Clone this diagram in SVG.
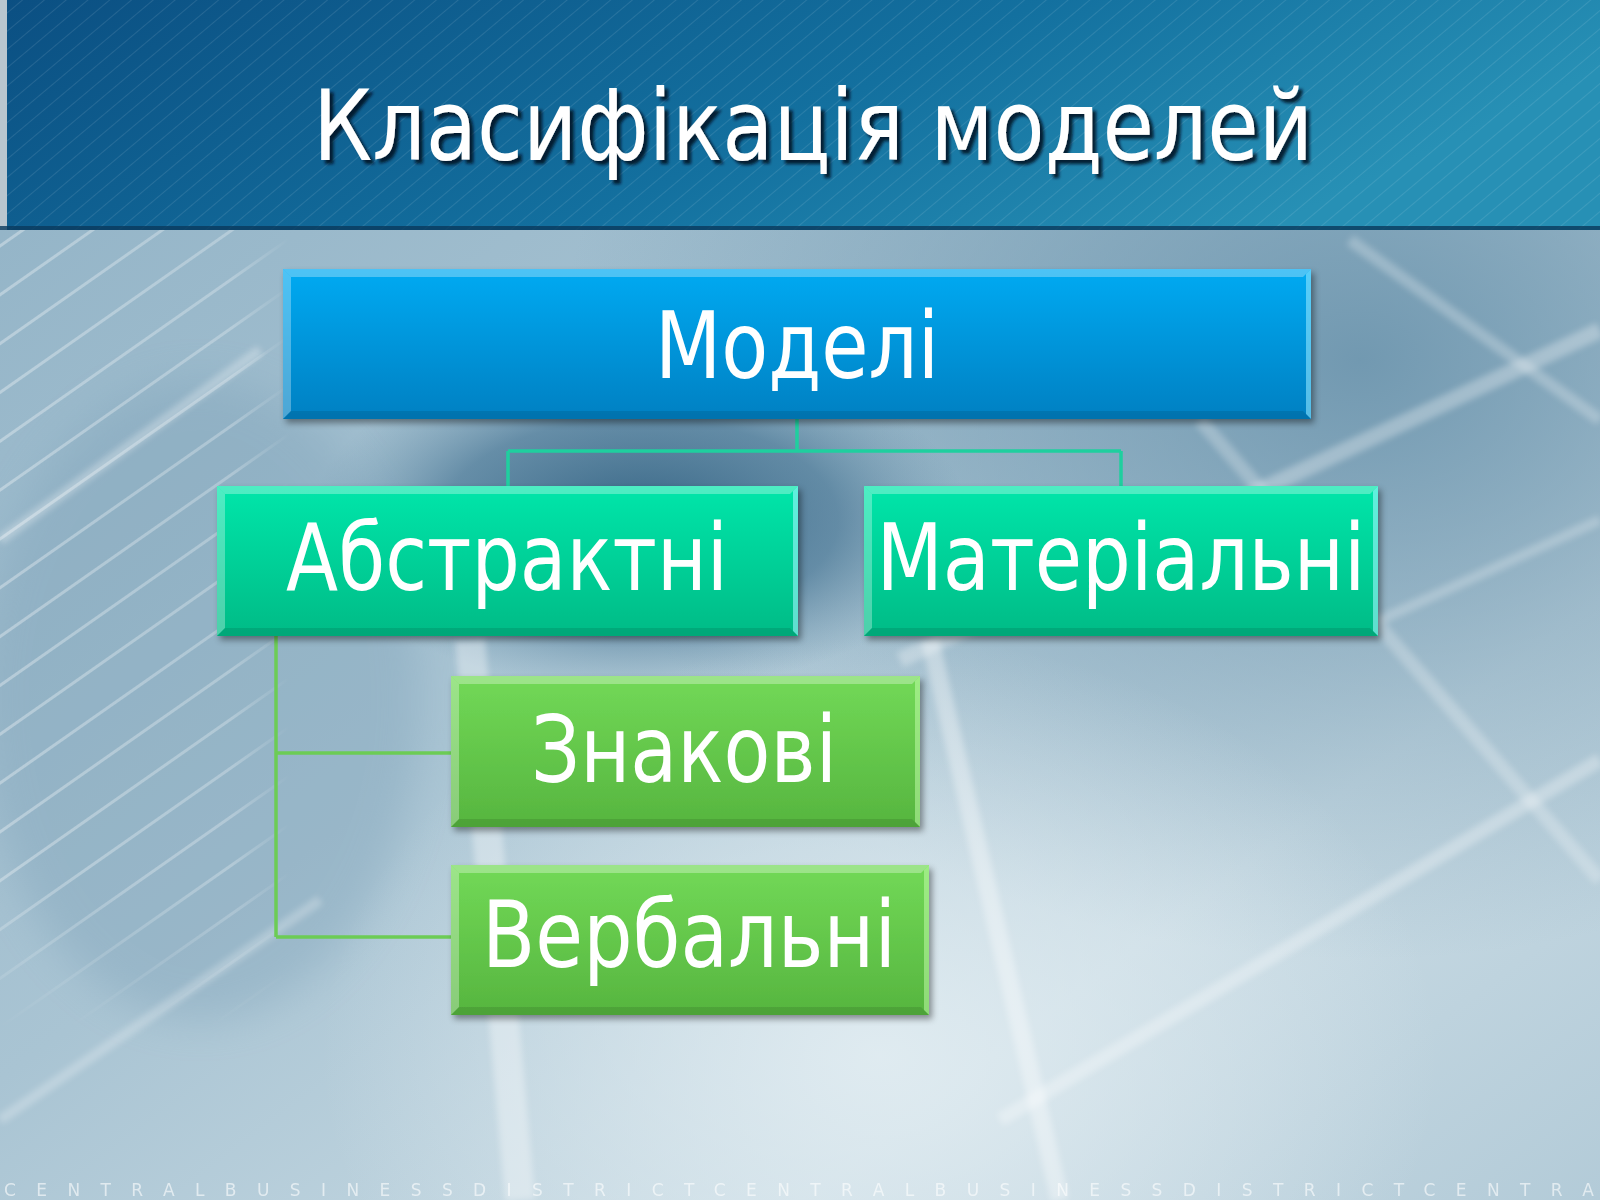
<svg xmlns="http://www.w3.org/2000/svg" width="1600" height="1200" viewBox="0 0 1600 1200">
<defs>
  <linearGradient id="bg" x1="0" y1="0" x2="1" y2="1">
    <stop offset="0" stop-color="#8fb1c5"/>
    <stop offset="0.45" stop-color="#a9c4d3"/>
    <stop offset="0.75" stop-color="#c9dbe4"/>
    <stop offset="1" stop-color="#b3cbd8"/>
  </linearGradient>
  <radialGradient id="bgR" cx="0.85" cy="0.3" r="0.5">
    <stop offset="0" stop-color="#6a93ac" stop-opacity="0.9"/>
    <stop offset="1" stop-color="#6a93ac" stop-opacity="0"/>
  </radialGradient>
  <radialGradient id="bgL" cx="0.55" cy="0.88" r="0.35">
    <stop offset="0" stop-color="#e2edf2" stop-opacity="0.9"/>
    <stop offset="1" stop-color="#e2edf2" stop-opacity="0"/>
  </radialGradient>
  <radialGradient id="eye" cx="0.5" cy="0.5" r="0.5">
    <stop offset="0" stop-color="#2f5f80" stop-opacity="0.95"/>
    <stop offset="0.6" stop-color="#4b7896" stop-opacity="0.7"/>
    <stop offset="1" stop-color="#6d94ac" stop-opacity="0"/>
  </radialGradient>
  <linearGradient id="band" x1="0" y1="0" x2="1" y2="0.3">
    <stop offset="0" stop-color="#0b4f82"/>
    <stop offset="0.6" stop-color="#13709f"/>
    <stop offset="1" stop-color="#2790b5"/>
  </linearGradient>
  <linearGradient id="hatchFade" x1="0" y1="0" x2="1" y2="0">
    <stop offset="0" stop-color="#fff" stop-opacity="1"/>
    <stop offset="0.8" stop-color="#fff" stop-opacity="0.8"/>
    <stop offset="1" stop-color="#fff" stop-opacity="0"/>
  </linearGradient>
  <linearGradient id="hatchFadeV" x1="0" y1="0" x2="0" y2="1">
    <stop offset="0" stop-color="#fff" stop-opacity="1"/>
    <stop offset="0.8" stop-color="#fff" stop-opacity="1"/>
    <stop offset="1" stop-color="#fff" stop-opacity="0"/>
  </linearGradient>
  <mask id="hmaskV"><rect x="0" y="230" width="290" height="800" fill="url(#hatchFadeV)"/></mask>
  <mask id="hmask"><rect x="0" y="230" width="290" height="800" fill="url(#hatchFade)" mask="url(#hmaskV)"/></mask>
  <linearGradient id="gBlue" x1="0" y1="0" x2="0" y2="1">
    <stop offset="0" stop-color="#00aaf2"/>
    <stop offset="1" stop-color="#0080c2"/>
  </linearGradient>
  <linearGradient id="gTeal" x1="0" y1="0" x2="0" y2="1">
    <stop offset="0" stop-color="#00e6aa"/>
    <stop offset="1" stop-color="#00bb86"/>
  </linearGradient>
  <linearGradient id="gGreen" x1="0" y1="0" x2="0" y2="1">
    <stop offset="0" stop-color="#72d957"/>
    <stop offset="1" stop-color="#56b53f"/>
  </linearGradient>
  <filter id="blur20" x="-20%" y="-20%" width="140%" height="140%"><feGaussianBlur stdDeviation="20"/></filter>
  <filter id="blur3"><feGaussianBlur stdDeviation="3"/></filter>
  <filter id="shadow" x="-5%" y="-5%" width="115%" height="120%">
    <feDropShadow dx="3" dy="4" stdDeviation="3" flood-color="#000" flood-opacity="0.4"/>
  </filter>
  <filter id="tshadow" x="-5%" y="-10%" width="110%" height="130%">
    <feDropShadow dx="4" dy="4" stdDeviation="1.5" flood-color="#001020" flood-opacity="0.85"/>
  </filter>
  <pattern id="hatch" width="40" height="40" patternUnits="userSpaceOnUse" patternTransform="rotate(-35)">
    <rect x="0" y="0" width="40" height="3" fill="#ffffff" opacity="0.55"/>
  </pattern>
  <pattern id="hatchFine" width="14" height="14" patternUnits="userSpaceOnUse" patternTransform="rotate(-40)">
    <rect x="0" y="0" width="14" height="1" fill="#ffffff" opacity="0.1"/>
  </pattern>
</defs>
<style>
  .lbl { font-family: "DejaVu Sans", Tahoma, Verdana, sans-serif; font-size: 92px; fill: #ffffff; text-anchor: middle; }
  .title { font-family: "DejaVu Sans", Tahoma, Verdana, sans-serif; font-size: 98px; fill: #ffffff; }
  .hl { fill: #ffffff; opacity: 0.3; }
  .dk { fill: #000000; opacity: 0.1; }
  .c1 { fill: none; stroke: #1fcf9f; stroke-width: 3.5; }
  .c2 { fill: none; stroke: #6ccc55; stroke-width: 3.5; }
  .foot { font-family: "DejaVu Sans", Verdana, sans-serif; font-size: 17px; fill: #ffffff; opacity: 0.6; }
</style>

<!-- background -->
<g id="background">
  <rect x="0" y="0" width="1600" height="1200" fill="url(#bg)"/>
  <rect x="0" y="0" width="1600" height="1200" fill="url(#bgR)"/>
  <rect x="0" y="0" width="1600" height="1200" fill="url(#bgL)"/>
  <ellipse cx="640" cy="520" rx="330" ry="170" fill="url(#eye)"/>
  <ellipse cx="200" cy="700" rx="220" ry="320" fill="#7a9fb6" opacity="0.35" filter="url(#blur20)"/>
  <g mask="url(#hmask)"><rect x="0" y="230" width="290" height="800" fill="url(#hatch)" opacity="0.6"/></g>
  <g stroke="#ffffff" fill="none" filter="url(#blur3)">
    <path d="M930 640 L1060 1200" stroke-width="18" opacity="0.35"/>
    <path d="M900 660 L1600 330" stroke-width="16" opacity="0.3"/>
    <path d="M1000 1120 L1600 760" stroke-width="14" opacity="0.3"/>
    <path d="M1200 420 L1600 880" stroke-width="14" opacity="0.25"/>
    <path d="M1350 240 L1600 420" stroke-width="12" opacity="0.25"/>
    <path d="M1380 620 L1600 520" stroke-width="10" opacity="0.25"/>
    <path d="M470 640 L520 1200" stroke-width="30" opacity="0.35"/>
    <path d="M0 540 L260 350" stroke-width="10" opacity="0.3"/>
    <path d="M0 1120 L320 900" stroke-width="10" opacity="0.25"/>
  </g>
</g>

<!-- title band -->
<g id="title-band">
  <rect x="0" y="0" width="1600" height="230" fill="url(#band)"/>
  <rect x="0" y="0" width="1600" height="230" fill="url(#hatchFine)"/>
  <rect x="0" y="0" width="7" height="230" fill="#b9c6cf"/>
  <rect x="0" y="226" width="1600" height="4" fill="#0a3a5c" opacity="0.8"/>
  <text class="title" x="313" y="160" textLength="1000" lengthAdjust="spacingAndGlyphs" filter="url(#tshadow)">Класифікація моделей</text>
</g>

<!-- connectors -->
<g id="connectors">
  <path class="c1" d="M797 419 V451 M508 451 H1121 M508 451 V486 M1121 451 V486"/>
  <path class="c2" d="M276 636 V937 M276 753 H451 M276 937 H451"/>
</g>

<!-- nodes -->
<g id="node-modeli" filter="url(#shadow)">
  <rect x="283" y="269" width="1028" height="150" fill="url(#gBlue)"/>
  <path class="hl" d="M283 269 H1311 L1303 277 H291 Z"/>
  <path class="hl" d="M283 269 L291 277 V411 L283 419 Z"/>
  <path d="M1311 269 L1306 274 V414 L1311 419 Z" fill="#8fe6ff" opacity="0.6"/>
  <path class="dk" d="M283 419 L291 411 H1303 L1311 419 Z"/>
  <text class="lbl" x="797" y="378" textLength="284" lengthAdjust="spacingAndGlyphs">Моделі</text>
</g>

<g id="node-abstraktni" filter="url(#shadow)">
  <rect x="217" y="486" width="581" height="150" fill="url(#gTeal)"/>
  <path class="hl" d="M217 486 H798 L790 494 H225 Z"/>
  <path class="hl" d="M217 486 L225 494 V628 L217 636 Z"/>
  <path d="M798 486 L793 491 V631 L798 636 Z" fill="#9ff7ff" opacity="0.6"/>
  <path class="dk" d="M217 636 L225 628 H790 L798 636 Z"/>
  <text class="lbl" x="507" y="590" textLength="442" lengthAdjust="spacingAndGlyphs">Абстрактні</text>
</g>

<g id="node-materialni" filter="url(#shadow)">
  <rect x="864" y="486" width="514" height="150" fill="url(#gTeal)"/>
  <path class="hl" d="M864 486 H1378 L1370 494 H872 Z"/>
  <path class="hl" d="M864 486 L872 494 V628 L864 636 Z"/>
  <path d="M1378 486 L1373 491 V631 L1378 636 Z" fill="#9ff7ff" opacity="0.6"/>
  <path class="dk" d="M864 636 L872 628 H1370 L1378 636 Z"/>
  <text class="lbl" x="1121" y="590" textLength="489" lengthAdjust="spacingAndGlyphs">Матеріальні</text>
</g>

<g id="node-znakovi" filter="url(#shadow)">
  <rect x="451" y="676" width="469" height="151" fill="url(#gGreen)"/>
  <path class="hl" d="M451 676 H920 L912 684 H459 Z"/>
  <path class="hl" d="M451 676 L459 684 V819 L451 827 Z"/>
  <path d="M920 676 L915 681 V822 L920 827 Z" fill="#c8ffb0" opacity="0.5"/>
  <path class="dk" d="M451 827 L459 819 H912 L920 827 Z"/>
  <text class="lbl" x="684" y="782" textLength="306" lengthAdjust="spacingAndGlyphs">Знакові</text>
</g>

<g id="node-verbalni" filter="url(#shadow)">
  <rect x="451" y="865" width="478" height="150" fill="url(#gGreen)"/>
  <path class="hl" d="M451 865 H929 L921 873 H459 Z"/>
  <path class="hl" d="M451 865 L459 873 V1007 L451 1015 Z"/>
  <path d="M929 865 L924 870 V1010 L929 1015 Z" fill="#c8ffb0" opacity="0.5"/>
  <path class="dk" d="M451 1015 L459 1007 H921 L929 1015 Z"/>
  <text class="lbl" x="689" y="967" textLength="414" lengthAdjust="spacingAndGlyphs">Вербальні</text>
</g>

<text class="foot" x="4" y="1196" textLength="1590" lengthAdjust="spacing">CENTRALBUSINESSDISTRICTCENTRALBUSINESSDISTRICTCENTRA</text>
</svg>
